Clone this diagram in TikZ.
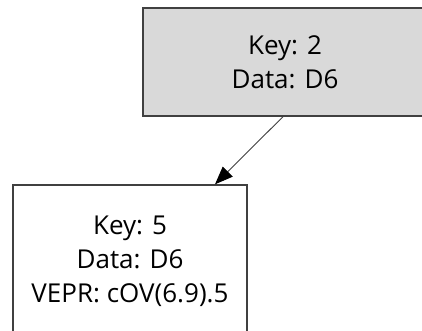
\documentclass[tikz,border=0pt]{standalone}
\usepackage{fontspec}
\setmainfont{Open Sans}
\usepackage{xcolor}
\definecolor{nodegray}{HTML}{D9D9D9}
\definecolor{edgegray}{HTML}{404040}
\usepackage{tikz}
\usetikzlibrary{positioning,arrows.meta}

\begin{document}
\begin{tikzpicture}[x=1pt,y=1pt,
    treenode/.style={rectangle,draw=edgegray,line width=1.4pt,inner sep=0pt,align=center,font=\fontsize{26}{34}\selectfont},
    treeedge/.style={draw=black!75,line width=0.9pt,-{Triangle[length=18pt,width=14pt,black]}}]
                \useasboundingbox (0,0) rectangle (422,-331); % fixed page size
                % the two nodes of the tree
                \node[treenode,fill=nodegray,minimum width=284pt,minimum height=108pt] (k2) at (285,-62) {Key: 2\\Data: D6};
                \node[treenode,fill=white,minimum width=234pt,minimum height=152pt] (k5) at (130,-261) {Key: 5\\Data: D6\\VEPR: cOV(6.9).5};
                % edge from parent to child
                \draw[treeedge] ([xshift=-2pt]k2.south) -- ([xshift=85pt]k5.north);
            \end{tikzpicture}
\end{document}
